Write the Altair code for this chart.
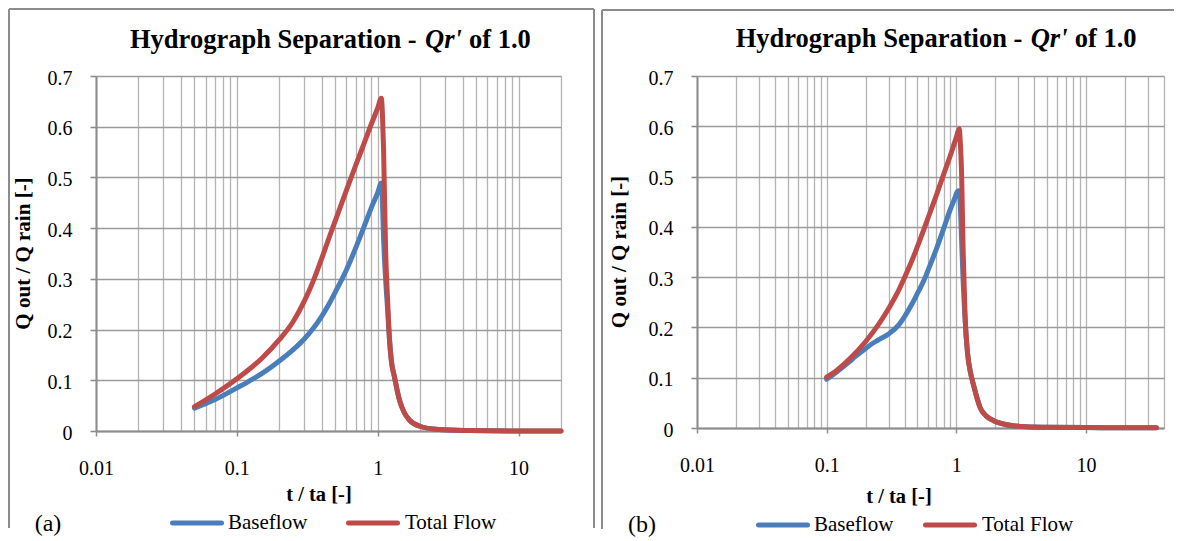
import altair as alt
import pandas as pd

FONT = "Liberation Serif"
BLUE = "#4A7EBB"
RED = "#BE4B48"
BORDER = "#8c8c8c"

# ---------------- data: panel (a) ----------------
a_total_t = [0.05, 0.07, 0.1, 0.15, 0.2, 0.25, 0.3, 0.35, 0.4, 0.45, 0.5, 0.6, 0.7, 0.8, 0.9,
             1.0, 1.06, 1.08, 1.1, 1.137, 1.175, 1.213, 1.253, 1.316, 1.382, 1.427, 1.545,
             1.673, 1.962, 2.7, 4.43, 10, 20]
a_total_q = [0.048, 0.073, 0.103, 0.143, 0.18, 0.215, 0.255, 0.297, 0.34, 0.38, 0.415, 0.475,
             0.525, 0.567, 0.605, 0.637, 0.656, 0.625, 0.556, 0.359, 0.258, 0.179, 0.136,
             0.106, 0.077, 0.061, 0.036, 0.022, 0.0099, 0.003, 0.001, 0.0, 0.0]
a_base_t = [0.05, 0.07, 0.1, 0.12, 0.15, 0.2, 0.25, 0.3, 0.35, 0.4, 0.45, 0.5, 0.6, 0.7, 0.8,
            0.9, 1.0, 1.06, 1.08, 1.1, 1.137, 1.175, 1.213, 1.253, 1.316, 1.382, 1.427, 1.545,
            1.673, 1.962, 2.7, 4.43, 10, 20]
a_base_q = [0.045, 0.062, 0.085, 0.097, 0.113, 0.138, 0.16, 0.181, 0.203, 0.226, 0.25, 0.274,
            0.318, 0.362, 0.403, 0.44, 0.47, 0.489, 0.45, 0.38, 0.3, 0.24, 0.179, 0.136, 0.106,
            0.077, 0.061, 0.036, 0.022, 0.0099, 0.003, 0.001, 0.0, 0.0]

# ---------------- data: panel (b) ----------------
b_total_t = [0.1, 0.12, 0.15, 0.2, 0.25, 0.3, 0.35, 0.4, 0.45, 0.5, 0.6, 0.7, 0.8, 0.9, 1.0,
             1.055, 1.07, 1.1, 1.13, 1.17, 1.22, 1.3, 1.36, 1.45, 1.53, 1.7, 1.94, 2.3, 2.77,
             3.5, 5, 10, 20, 35]
b_total_q = [0.101, 0.115, 0.137, 0.172, 0.205, 0.237, 0.268, 0.3, 0.33, 0.36, 0.415, 0.462,
             0.505, 0.542, 0.578, 0.595, 0.575, 0.5, 0.35, 0.22, 0.15, 0.105, 0.085, 0.058,
             0.04, 0.024, 0.0145, 0.008, 0.0045, 0.0025, 0.0015, 0.0008, 0.0004, 0.0003]
b_base_t = [0.1, 0.12, 0.15, 0.166, 0.2, 0.225, 0.25, 0.3, 0.36, 0.4, 0.456, 0.5, 0.577, 0.6,
            0.7, 0.807, 0.9, 0.95, 1.04, 1.07, 1.1, 1.13, 1.17, 1.22, 1.3, 1.36, 1.45, 1.53,
            1.7, 1.94, 2.3, 2.77, 3.5, 5, 10, 20, 35]
b_base_q = [0.097, 0.112, 0.132, 0.142, 0.158, 0.168, 0.175, 0.187, 0.205, 0.222, 0.247, 0.267,
            0.3, 0.311, 0.355, 0.4, 0.435, 0.45, 0.472, 0.45, 0.37, 0.29, 0.215, 0.15, 0.105,
            0.085, 0.058, 0.04, 0.024, 0.0145, 0.008, 0.0045, 0.0025, 0.0015, 0.0008, 0.0004,
            0.0003]

series_names = ["Baseflow", "Total Flow"]
x_grid_a = [0.01, 0.02, 0.03, 0.04, 0.05, 0.06, 0.07, 0.08, 0.09,
            0.1, 0.2, 0.3, 0.4, 0.5, 0.6, 0.7, 0.8, 0.9,
            1, 2, 3, 4, 5, 6, 7, 8, 9, 10, 20]
x_grid_b = x_grid_a + [30, 40]
x_labelled = [0.01, 0.1, 1, 10]
y_ticks = [0, 0.1, 0.2, 0.3, 0.4, 0.5, 0.6, 0.7]

title_main = "Hydrograph Separation - "
title_ital = "Qr'"
title_tail = "of 1.0"
x_title = "t / ta [-]"
y_title = "Q out / Q rain [-]"
panel_tags = ["(a)", "(b)"]


def long_df(bt, bq, tt, tq):
    rows = [{"t": t, "q": q, "series": series_names[0]} for t, q in zip(bt, bq)]
    rows += [{"t": t, "q": q, "series": series_names[1]} for t, q in zip(tt, tq)]
    return pd.DataFrame(rows)


TEST = "indexof([" + ",".join(str(v) for v in x_labelled) + "], datum.value) >= 0"


def txt(s, x, y, size, weight="normal", style="normal", align="left", angle=0):
    return alt.Chart(pd.DataFrame({"s": [s]})).mark_text(
        font=FONT, fontSize=size, fontWeight=weight, fontStyle=style, align=align,
        baseline="middle", angle=angle, color="black"
    ).encode(x=alt.value(x), y=alt.value(y), text="s:N")


def rule(color, width, x, y, x2=None, y2=None, cap="butt"):
    enc = {"x": alt.value(x), "y": alt.value(y)}
    if x2 is not None:
        enc["x2"] = alt.value(x2)
    if y2 is not None:
        enc["y2"] = alt.value(y2)
    return alt.Chart(pd.DataFrame({"k": [0]})).mark_rule(
        color=color, strokeWidth=width, strokeCap=cap).encode(**enc)


def panel(df, xmax, grid_vals, W, H, lay):
    lines = alt.Chart(df).mark_line(
        strokeWidth=5, strokeCap="round", strokeJoin="round", interpolate="monotone"
    ).encode(
        x=alt.X("t:Q", scale=alt.Scale(type="log", domain=[0.01, xmax]),
                axis=alt.Axis(values=grid_vals, grid=True, gridColor="#b3b3b3", gridWidth=1.3,
                              domainColor=BORDER, domainWidth=2, tickColor=BORDER,
                              tickWidth=1.5, tickSize=5,
                              tickOpacity={"condition": {"test": TEST, "value": 1}, "value": 0},
                              labelExpr=TEST + " ? format(datum.value, '~g') : ''",
                              labelFont=FONT, labelFontSize=20, labelColor="black",
                              labelPadding=22, labelFlush=False, labelOverlap=False,
                              labelBound=False, title=None)),
        y=alt.Y("q:Q", scale=alt.Scale(domain=[0, 0.7]),
                axis=alt.Axis(values=y_ticks, grid=True, gridColor="#9b9b9b", gridWidth=1.6,
                              domainColor=BORDER, domainWidth=2, tickColor=BORDER,
                              tickWidth=1.6, tickSize=6, labelFont=FONT, labelFontSize=20,
                              labelColor="black", labelPadding=18, labelOffset=2,
                              labelFlush=False, format="~g", title=None)),
        color=alt.Color("series:N", scale=alt.Scale(domain=series_names, range=[BLUE, RED]),
                        legend=None),
    )
    layers = [lines]
    # titles
    layers.append(txt(title_main, lay["tx"], lay["ty"], 26.5, weight="bold"))
    layers.append(txt(title_ital, lay["tx"] + 295, lay["ty"], 26.5, weight="bold", style="italic"))
    layers.append(txt(title_tail, lay["tx"] + 339, lay["ty"], 26.5, weight="bold"))
    layers.append(txt(y_title, lay["yx"], lay["yy"], 21, weight="bold", align="center", angle=270))
    layers.append(txt(x_title, lay["xx"], lay["xy"], 20.5, weight="bold", align="center"))
    layers.append(txt(lay["tag"], lay["gx"], lay["gy"], 24, align="center"))
    # legend
    ly = lay["ly"]
    layers.append(rule(BLUE, 5, lay["l1"], ly, x2=lay["l1"] + 49, cap="round"))
    layers.append(txt(series_names[0], lay["l1"] + 55.5, ly, 21))
    layers.append(rule(RED, 5, lay["l2"], ly, x2=lay["l2"] + 49, cap="round"))
    layers.append(txt(series_names[1], lay["l2"] + 56.5, ly, 21))
    # panel border
    bl, bt, br, bb = lay["border"]
    layers.append(rule(BORDER, 2, bl, bt, y2=bb))
    layers.append(rule(BORDER, 2, bl, bt, x2=br))
    if lay.get("right_border", True):
        layers.append(rule(BORDER, 2, br, bt, y2=bb))
    return alt.layer(*layers).properties(width=W, height=H)


left = panel(long_df(a_base_t, a_base_q, a_total_t, a_total_q), 20, x_grid_a, 465, 355,
             dict(tx=34, ty=-36.5, yx=-72, yy=177.5, xx=223, xy=419, tag=panel_tags[0],
                  gx=-48, gy=448, ly=447, l1=76.5, l2=252.5,
                  border=(-87, -67, 498, 452)))
right = panel(long_df(b_base_t, b_base_q, b_total_t, b_total_q), 40, x_grid_b, 467, 352,
              dict(tx=38.7, ty=-37.5, yx=-77, yy=176, xx=202, xy=421, tag=panel_tags[1],
                   gx=-55, gy=449, ly=449, l1=61.5, l2=228.5,
                   border=(-95, -66, 477, 453), right_border=False))

chart = alt.hconcat(left, right, spacing=6).properties(
    padding=0, background="white"
).configure_view(stroke=None)

chart.save("out.html", embed_options={"renderer": "svg", "actions": False})
